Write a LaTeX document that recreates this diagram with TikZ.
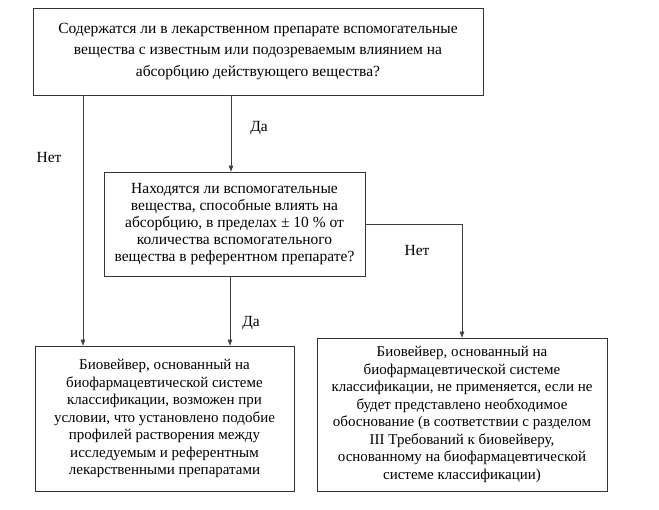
\documentclass[tikz,border=0pt]{standalone}
\usepackage{fontspec}
\setmainfont{Liberation Serif}
\usetikzlibrary{arrows.meta}
\begin{document}
\begin{tikzpicture}[x=1pt,y=-1pt,
  box/.style={draw=black!80, line width=0.8pt, align=center, inner sep=0pt,
    font=\fontsize{15.5}{17}\selectfont},
  arr/.style={draw=black!75, line width=0.6pt, -{Triangle[length=6pt,width=4.5pt]}},
  lbl/.style={font=\fontsize{15.5}{17}\selectfont, inner sep=0pt}]
\useasboundingbox[fill=white] (0,0) rectangle (659,509);
\node[box, minimum width=450pt, minimum height=87pt,
  font=\fontsize{15.5}{21.5}\selectfont] (top) at (258,51.5)
  {Содержатся ли в лекарственном препарате вспомогательные\\
   вещества с известным или подозреваемым влиянием на\\
   абсорбцию действующего вещества?};
\node[box, minimum width=261pt, minimum height=104pt] (q2) at (234.5,224)
  {Находятся ли вспомогательные\\
   вещества, способные влиять на\\
   абсорбцию, в пределах ± 10 \% от\\
   количества вспомогательного\\
   вещества в референтном препарате?};
\node[box, minimum width=259pt, minimum height=145pt,
  font=\fontsize{15}{17.5}\selectfont] (bl) at (164.5,418.5)
  {Биовейвер, основанный на\\
   биофармацевтической системе\\
   классификации, возможен при\\
   условии, что установлено подобие\\
   профилей растворения между\\
   исследуемым и референтным\\
   лекарственными препаратами};
\node[box, minimum width=290pt, minimum height=153pt,
  font=\fontsize{15}{17.5}\selectfont] (b3) at (462,414.5)
  {Биовейвер, основанный на\\
   биофармацевтической системе\\
   классификации, не применяется, если не\\
   будет представлено необходимое\\
   обоснование (в соответствии с разделом\\
   III Требований к биовейверу,\\
   основанному на биофармацевтической\\
   системе классификации)};
\coordinate (cl) at (83,0);
\coordinate (cm) at (231,0);
\coordinate (cb) at (230,0);
\draw[arr] (top.south -| cl) -- (bl.north -| cl);
\draw[arr] (top.south -| cm) -- (q2.north -| cm);
\draw[arr] (q2.south -| cb) -- (bl.north -| cb);
\draw[arr] (q2.east) -| (b3.north);
\node[lbl] (da1) at (259,128) {Да};
\node[lbl] (net1) at (49,157) {Нет};
\node[lbl] (da2) at (251,323) {Да};
\node[lbl] (net2) at (417,250) {Нет};
\end{tikzpicture}
\end{document}
